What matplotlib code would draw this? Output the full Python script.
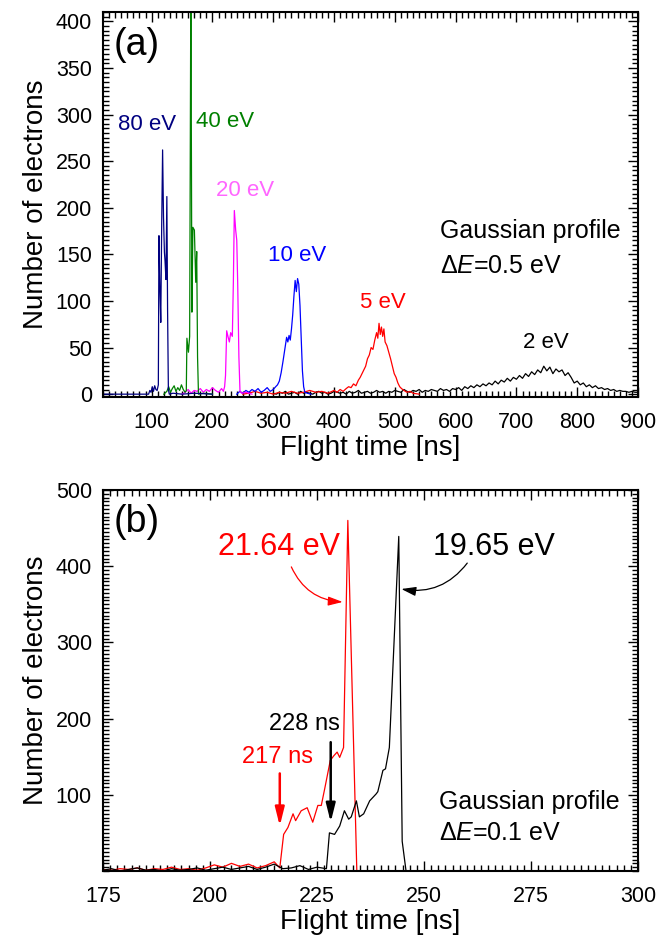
import matplotlib
matplotlib.use('Agg')
import matplotlib.pyplot as plt
from matplotlib.ticker import MultipleLocator
import numpy as np

plt.rcParams['font.family'] = ['Liberation Sans', 'DejaVu Sans']
plt.rcParams['mathtext.fontset'] = 'custom'
plt.rcParams['mathtext.rm'] = 'Liberation Sans'
plt.rcParams['mathtext.it'] = 'Liberation Sans:italic'

# ---------------- Panel (a) data ----------------
t80 = [20, 95, 97, 99, 101, 103, 105, 107, 109, 111, 112, 113.5, 115, 116.5, 118, 119.5, 121, 122,
       123.5, 125, 126.2, 127.5, 129, 135, 150, 170, 200]
c80 = [0, 0, 4, 2, 8, 3, 9, 5, 4, 10, 170, 115, 77, 180, 262, 190, 152, 143,
       123, 212, 90, 5, 0, 1, 0, 1, 0]

t40 = [120, 125, 128, 131, 134, 137, 140, 143, 146, 149, 152, 155, 157, 158, 160.5, 162.5, 164.5,
       166.2, 167.8, 170.3, 172.5, 174.1, 175.5, 177, 185, 200]
c40 = [0, 3, 8, 2, 6, 9, 3, 7, 4, 10, 5, 2, 4, 60, 45, 62, 450,
       88, 179, 176, 120, 153, 40, 0, 1, 0]

t20 = [150, 155, 160, 165, 170, 175, 180, 185, 190, 195, 200, 205, 210, 215, 218, 220, 221.5, 223.4,
       225.5, 227.8, 230, 232.7, 234.4, 236, 238.2, 240, 241.5, 243.5, 245.3, 248, 255, 265]
c20 = [0, 2, 5, 1, 4, 3, 6, 2, 5, 3, 7, 4, 2, 6, 3, 8, 20, 68,
       62, 56, 66, 62, 120, 197, 176, 165, 120, 40, 3, 1, 2, 0]

t10 = [240, 245, 250, 255, 260, 265, 270, 275, 280, 285, 290, 295, 300, 304, 307, 310, 313, 316, 319,
       322, 324, 326, 328, 330, 332, 334, 336, 338, 340, 342, 344, 346, 348, 350, 352, 356, 362]
c10 = [0, 3, 1, 4, 2, 5, 3, 6, 2, 4, 7, 3, 5, 8, 10, 14, 23, 35, 48,
       61, 56, 63, 58, 70, 85, 105, 122, 110, 124, 118, 95, 60, 25, 8, 2, 1, 0]

t5 = [250, 260, 270, 280, 290, 300, 310, 320, 330, 340, 350, 360, 370, 380, 390, 400, 405, 410, 415,
      420, 424, 428, 432, 436, 440, 443, 446, 449, 452, 455, 458, 461, 464, 467, 470, 472, 474, 476,
      478, 480, 482, 484, 487, 490, 493, 496, 499, 502, 505, 508, 511, 515, 520, 525, 530, 540]
c5 = [0, 1, 3, 1, 2, 0, 2, 1, 3, 1, 2, 4, 2, 3, 1, 4, 2, 5, 3,
      6, 8, 7, 11, 9, 15, 18, 22, 26, 30, 38, 42, 50, 48, 58, 66, 60, 76, 64,
      72, 62, 70, 56, 52, 45, 38, 30, 22, 18, 12, 8, 6, 4, 2, 3, 1, 0]

t2 = np.arange(300, 905, 5)
c2 = [1, 0, 2, 1, 3, 0, 1, 2, 0, 3,
      1, 2, 1, 0, 2, 3, 1, 2, 0, 1,
      3, 2, 1, 2, 0, 3, 1, 2, 4, 1,
      2, 3, 1, 2, 4, 2, 3, 1, 3, 2,
      4, 3, 2, 5, 3, 2, 4, 3, 5, 2,
      4, 3, 5, 4, 3, 6, 4, 5, 3, 6,
      5, 7, 4, 8, 6, 9, 7, 10, 8, 11,
      9, 12, 10, 14, 11, 15, 13, 17, 14, 18,
      16, 20, 17, 22, 19, 24, 21, 26, 23, 30,
      25, 29, 22, 27, 24, 26, 20, 23, 18, 12,
      14, 10, 12, 8, 10, 7, 9, 6, 7, 5,
      6, 4, 5, 3, 4, 3, 3, 2, 3, 2, 2]

# ---------------- Panel (b) data ----------------
tr = [175, 177, 179, 181, 183, 185, 187, 189, 191, 193, 195, 197, 199, 201, 203, 205, 207, 209, 211,
      213, 215, 216.3, 217.2, 218.2, 219.4, 220.0, 221.3, 222.7, 224.0, 225.2, 226.0, 226.8, 228.1,
      228.9, 229.7, 230.3, 231.2, 232.2, 234.3]
cr = [2, 1, 3, 2, 4, 1, 3, 2, 5, 2, 3, 1, 4, 8, 5, 10, 6, 9, 4,
      7, 12, 4, 48, 57, 75, 66, 79, 83, 64, 86, 86, 108, 145,
      151, 156, 149, 162, 460, 0]

tk = [175, 177, 179, 181, 183, 185, 187, 189, 191, 193, 195, 197, 199, 201, 203, 205, 207, 209, 211,
      213, 215, 217, 219, 221, 223, 225, 227.2, 227.9, 229.1, 230.3, 231.4, 232.4, 233.0, 234.2,
      234.9, 235.9, 237.3, 238.8, 239.2, 240.4, 241.0, 241.9, 244.1, 244.9, 245.8]
ck = [1, 3, 0, 2, 4, 1, 2, 0, 3, 1, 2, 4, 1, 3, 5, 2, 4, 6, 2,
      5, 9, 3, 4, 7, 2, 5, 3, 50, 48, 59, 79, 68, 71, 92,
      71, 75, 92, 101, 104, 132, 134, 162, 439, 39, 0]

fig = plt.figure(figsize=(6.57, 9.42), dpi=100)
ax1 = fig.add_axes([0.1568, 0.5786, 0.8143, 0.4087])
ax2 = fig.add_axes([0.1568, 0.0754, 0.8143, 0.4045])

lw = 0.9
ax1.plot(t2, c2, color='black', lw=lw)
ax1.plot(t5, c5, color='#FF0000', lw=lw)
ax1.plot(t10, c10, color='#0000FF', lw=lw)
ax1.plot(t20, c20, color='#FF00FF', lw=lw)
ax1.plot(t40, c40, color='#008000', lw=lw)
ax1.plot(t80, c80, color='#000080', lw=lw)

ax2.plot(tr, cr, color='#FF0000', lw=lw)
ax2.plot(tk, ck, color='black', lw=lw)

ax1.set_xlim(20, 900)
ax1.set_ylim(-3, 410)
ax1.set_xticks([100, 200, 300, 400, 500, 600, 700, 800, 900])
ax1.set_yticks([0, 50, 100, 150, 200, 250, 300, 350, 400])
ax1.xaxis.set_minor_locator(MultipleLocator(10))
ax1.yaxis.set_minor_locator(MultipleLocator(5))

ax2.set_xlim(175, 300)
ax2.set_ylim(0, 500)
ax2.set_xticks([175, 200, 225, 250, 275, 300])
ax2.set_yticks([100, 200, 300, 400, 500])
ax2.xaxis.set_minor_locator(MultipleLocator(25 / 15))
ax2.yaxis.set_minor_locator(MultipleLocator(5))

for ax in (ax1, ax2):
    for s in ax.spines.values():
        s.set_linewidth(1.5)
    ax.tick_params(which='both', direction='in', top=True, right=True, width=1.0)
    ax.tick_params(which='major', length=7, labelsize=15.5)
    ax.tick_params(which='minor', length=4)
    ax.tick_params(axis='y', which='major', pad=8)
    ax.tick_params(axis='x', which='major', pad=11)
    ax.set_xlabel('Flight time [ns]', fontsize=20, labelpad=1)
    ax.set_ylabel('Number of electrons', fontsize=20, labelpad=5)

# Panel (a) annotations
ax1.text(0.019, 0.914, '(a)', transform=ax1.transAxes, fontsize=27, ha='left', va='center')
ax1.text(93, 289, '80 eV', color='#000080', fontsize=16, ha='center', va='center')
ax1.text(221, 293, '40 eV', color='#008000', fontsize=16, ha='center', va='center')
ax1.text(253, 218, '20 eV', color='#FF66FF', fontsize=16, ha='center', va='center')
ax1.text(340, 149, '10 eV', color='#0000FF', fontsize=16, ha='center', va='center')
ax1.text(481, 98, '5 eV', color='#FF0000', fontsize=16, ha='center', va='center')
ax1.text(748, 55, '2 eV', color='black', fontsize=16, ha='center', va='center')
ax1.text(575, 175, 'Gaussian profile', fontsize=18, ha='left', va='center')
ax1.text(575, 138, r'$\Delta\mathit{E}$=0.5 eV', fontsize=18, ha='left', va='center')

# Panel (b) annotations
ax2.text(0.019, 0.916, '(b)', transform=ax2.transAxes, fontsize=27, ha='left', va='center')
ax2.text(230.3, 425, '21.64 eV', color='#FF0000', fontsize=22, ha='right', va='center')
ax2.text(252, 425, '19.65 eV', color='black', fontsize=22, ha='left', va='center')
ax2.text(222.1, 193, '228 ns', color='black', fontsize=17, ha='center', va='center')
ax2.text(215.8, 149, '217 ns', color='#FF0000', fontsize=17, ha='center', va='center')
ax2.text(253.6, 90, 'Gaussian profile', fontsize=18, ha='left', va='center')
ax2.text(253.6, 50, r'$\Delta\mathit{E}$=0.1 eV', fontsize=18, ha='left', va='center')

ax2.annotate('', xy=(231.0, 353), xytext=(219.0, 399),
             arrowprops=dict(arrowstyle='-|>,head_length=0.8,head_width=0.25', color='#FF0000',
                             lw=0.9, mutation_scale=11, shrinkA=0, shrinkB=0,
                             connectionstyle='arc3,rad=0.3'))
ax2.annotate('', xy=(244.7, 370), xytext=(260.1, 404),
             arrowprops=dict(arrowstyle='-|>,head_length=0.8,head_width=0.25', color='black',
                             lw=0.9, mutation_scale=11, shrinkA=0, shrinkB=0,
                             connectionstyle='arc3,rad=-0.3'))
ax2.annotate('', xy=(216.3, 59), xytext=(216.3, 128),
             arrowprops=dict(arrowstyle='-|>,head_length=1.0,head_width=0.25', color='#FF0000',
                             lw=1.8, mutation_scale=11, shrinkA=0, shrinkB=0))
ax2.annotate('', xy=(228.2, 64), xytext=(228.2, 169),
             arrowprops=dict(arrowstyle='-|>,head_length=1.0,head_width=0.25', color='black',
                             lw=1.8, mutation_scale=11, shrinkA=0, shrinkB=0))

fig.savefig('out.png', dpi=100)
